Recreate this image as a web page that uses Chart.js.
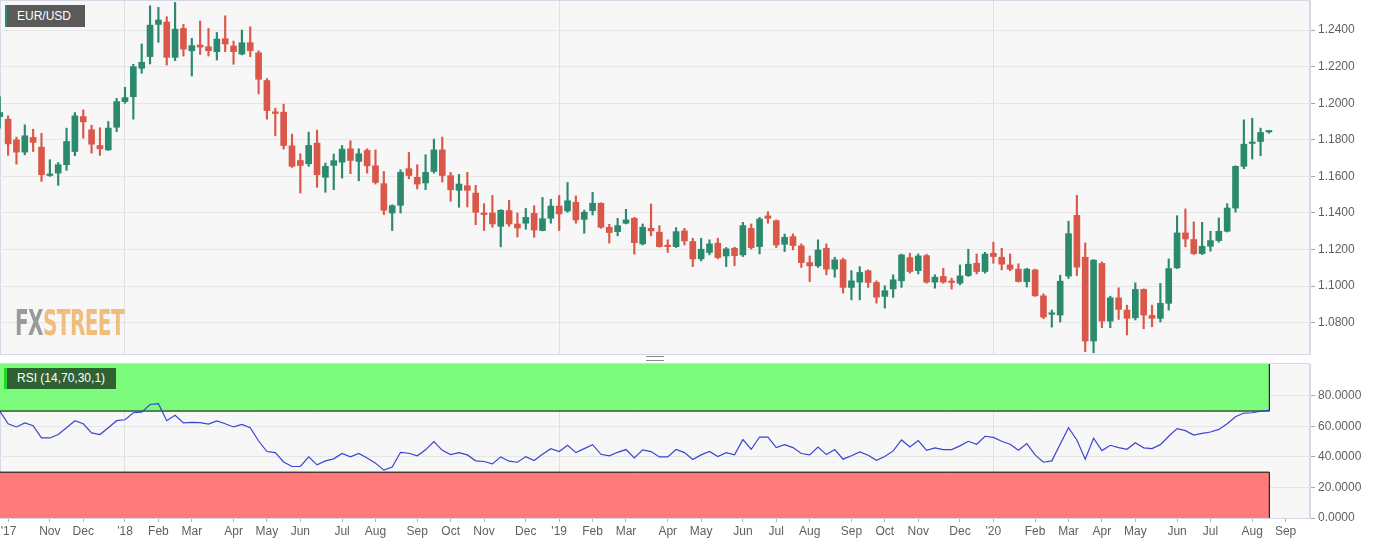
<!DOCTYPE html>
<html>
<head>
<meta charset="utf-8">
<title>EUR/USD weekly</title>
<script src="https://cdn.jsdelivr.net/npm/chart.js@4.4.0/dist/chart.umd.min.js"></script>
<style>
html,body{margin:0;padding:0;background:#fff;}
#wrap{position:relative;width:1387px;height:544px;overflow:hidden;font-family:"Liberation Sans",Arial,sans-serif;}
#price{position:absolute;left:0;top:0;}
#rsi{position:absolute;left:0;top:356px;}
.tag{position:absolute;color:#fff;font-size:12px;line-height:22px;white-space:nowrap;z-index:2;}
#pairTag{left:5px;top:5px;width:80px;height:22px;background:#5a5a5a;border-left:2px solid #2b8a6e;padding-left:10px;box-sizing:border-box;}
#rsiTag{left:4px;top:368px;width:112px;height:21px;line-height:21px;background:#2f6233;border-left:3px solid #26d426;padding-left:10px;box-sizing:border-box;}
#logo{position:absolute;left:15px;top:302px;font-family:"DejaVu Sans Condensed","DejaVu Sans",sans-serif;font-weight:bold;font-size:36px;transform:scaleX(0.62);transform-origin:0 0;letter-spacing:-1px;z-index:2;}
#logo .fx{color:#9a9a9a;}
#logo .st{color:#f1bd7c;}
#handle{position:absolute;left:646px;top:356px;width:18px;height:3px;border-top:1px solid #8a8a8a;border-bottom:1px solid #8a8a8a;}
</style>
</head>
<body>
<div id="wrap">
  <canvas id="price" width="1387" height="355"></canvas>
  <canvas id="rsi" width="1387" height="188"></canvas>
  <div id="pairTag" class="tag">EUR/USD</div>
  <div id="rsiTag" class="tag">RSI (14,70,30,1)</div>
  <div id="logo"><span class="fx">FX</span><span class="st">STREET</span></div>
  <div id="handle"></div>
</div>
<script>
// weekly candles, first week = 18 Sep 2017, last = 17 Aug 2020
const openP = [
  1.1927,1.1913,1.1800,1.1733,1.1813,1.1760,1.1605,1.1618,1.1664,1.1736,
  1.1927,1.1855,1.1769,1.1745,1.1869,1.2009,1.2036,1.2191,1.2255,1.2431,
  1.2444,1.2251,1.2409,1.2287,1.2318,1.2309,1.2282,1.2353,1.2313,1.2269,
  1.2331,1.2276,1.2124,1.1953,1.1951,1.1767,1.1687,1.1669,1.1782,1.1595,
  1.1660,1.1678,1.1751,1.1682,1.1742,1.1658,1.1560,1.1400,1.1442,1.1642,
  1.1595,1.1564,1.1627,1.1745,1.1604,1.1524,1.1549,1.1509,1.1400,1.1400,
  1.1327,1.1413,1.1340,1.1344,1.1398,1.1304,1.1371,1.1438,1.1411,1.1458,
  1.1365,1.1413,1.1453,1.1322,1.1298,1.1344,1.1371,1.1231,1.1316,1.1295,
  1.1222,1.1216,1.1302,1.1244,1.1149,1.1184,1.1235,1.1165,1.1207,1.1171,
  1.1316,1.1216,1.1384,1.1358,1.1229,1.1271,1.1220,1.1129,1.1111,1.1207,
  1.1093,1.1144,1.0993,1.1022,1.1084,1.1020,1.0944,1.0985,1.1029,1.1156,
  1.1085,1.1167,1.1022,1.1053,1.1025,1.1016,1.1058,1.1125,1.1080,1.1180,
  1.1158,1.1116,1.1093,1.1025,1.1089,1.0947,1.0846,1.0842,1.1055,1.1387,
  1.1158,1.0700,1.1124,1.0809,1.0936,1.0869,1.0827,1.0982,1.0840,1.0824,
  1.0906,1.1100,1.1291,1.1255,1.1178,1.1218,1.1249,1.1300,1.1427,1.1655,
  1.1780,1.1791,1.1843
];
const highP = [
  1.2036,1.1931,1.1815,1.1882,1.1858,1.1836,1.1691,1.1676,1.1864,1.1949,
  1.1964,1.1880,1.1866,1.1900,1.2027,1.2087,1.2213,1.2324,1.2533,1.2524,
  1.2473,1.2551,1.2431,1.2355,1.2449,1.2409,1.2387,1.2478,1.2340,1.2400,
  1.2418,1.2287,1.2135,1.1973,1.1995,1.1831,1.1724,1.1842,1.1853,1.1673,
  1.1722,1.1769,1.1795,1.1751,1.1751,1.1745,1.1627,1.1445,1.1636,1.1731,
  1.1664,1.1718,1.1804,1.1815,1.1622,1.1611,1.1622,1.1551,1.1451,1.1496,
  1.1418,1.1469,1.1400,1.1425,1.1440,1.1485,1.1475,1.1496,1.1567,1.1493,
  1.1416,1.1513,1.1456,1.1338,1.1371,1.1420,1.1376,1.1340,1.1449,1.1331,
  1.1253,1.1320,1.1316,1.1262,1.1262,1.1253,1.1262,1.1211,1.1213,1.1349,
  1.1340,1.1376,1.1407,1.1362,1.1285,1.1285,1.1231,1.1165,1.1253,1.1231,
  1.1158,1.1153,1.1085,1.1107,1.1089,1.1029,1.1002,1.1062,1.1175,1.1180,
  1.1176,1.1175,1.1062,1.1098,1.1044,1.1116,1.1202,1.1176,1.1185,1.1240,
  1.1207,1.1176,1.1122,1.1098,1.1093,1.0958,1.0869,1.1060,1.1355,1.1496,
  1.1236,1.1145,1.1133,1.0945,1.0991,1.0896,1.1018,1.0985,1.0896,1.1015,
  1.1149,1.1385,1.1422,1.1351,1.1349,1.1300,1.1373,1.1451,1.1658,1.1909,
  1.1918,1.1864,1.1851
];
const lowP = [
  1.1864,1.1715,1.1667,1.1718,1.1736,1.1573,1.1600,1.1551,1.1633,1.1713,
  1.1809,1.1727,1.1715,1.1742,1.1845,1.2000,1.1913,1.2164,1.2215,1.2333,
  1.2209,1.2233,1.2258,1.2149,1.2267,1.2258,1.2236,1.2282,1.2213,1.2264,
  1.2255,1.2051,1.1913,1.1822,1.1749,1.1649,1.1509,1.1655,1.1540,1.1513,
  1.1527,1.1591,1.1615,1.1576,1.1618,1.1558,1.1391,1.1304,1.1400,1.1587,
  1.1531,1.1527,1.1618,1.1569,1.1464,1.1431,1.1433,1.1336,1.1304,1.1322,
  1.1215,1.1327,1.1269,1.1311,1.1267,1.1302,1.1344,1.1304,1.1404,1.1344,
  1.1289,1.1389,1.1316,1.1235,1.1275,1.1340,1.1175,1.1225,1.1275,1.1213,
  1.1185,1.1211,1.1225,1.1107,1.1138,1.1171,1.1149,1.1107,1.1111,1.1162,
  1.1202,1.1176,1.1344,1.1211,1.1189,1.1198,1.1102,1.1025,1.1102,1.1062,
  1.1049,1.0962,1.0925,1.0925,1.0993,1.0907,1.0880,1.0938,1.0993,1.1071,
  1.1067,1.1016,1.0989,1.1016,1.0984,1.1007,1.1053,1.1067,1.1071,1.1125,
  1.1089,1.1085,1.1022,1.0995,1.0944,1.0822,1.0776,1.0804,1.1042,1.1058,
  1.0642,1.0636,1.0773,1.0773,1.0818,1.0733,1.0815,1.0767,1.0778,1.0804,
  1.0869,1.1096,1.1215,1.1173,1.1173,1.1191,1.1240,1.1296,1.1405,1.1642,
  1.1695,1.1713,1.1836
];
const closeP = [
  1.1949,1.1778,1.1733,1.1822,1.1786,1.1609,1.1612,1.1664,1.1791,1.1931,
  1.1898,1.1776,1.1751,1.1864,1.2009,1.2031,1.2200,1.2224,1.2427,1.2455,
  1.2251,1.2405,1.2296,1.2315,1.2307,1.2287,1.2351,1.2324,1.2282,1.2331,
  1.2287,1.2131,1.1960,1.1944,1.1769,1.1655,1.1660,1.1769,1.1609,1.1655,
  1.1686,1.1749,1.1687,1.1724,1.1658,1.1567,1.1415,1.1440,1.1622,1.1605,
  1.1558,1.1622,1.1745,1.1605,1.1527,1.1558,1.1524,1.1404,1.1391,1.1340,
  1.1415,1.1340,1.1318,1.1376,1.1307,1.1369,1.1438,1.1395,1.1467,1.1362,
  1.1404,1.1453,1.1322,1.1293,1.1331,1.1362,1.1238,1.1322,1.1302,1.1216,
  1.1216,1.1298,1.1247,1.1149,1.1202,1.1231,1.1156,1.1204,1.1167,1.1331,
  1.1211,1.1367,1.1371,1.1225,1.1267,1.1222,1.1129,1.1111,1.1198,1.1093,
  1.1144,1.0993,1.1029,1.1075,1.1020,1.0940,1.0975,1.1035,1.1171,1.1080,
  1.1165,1.1022,1.1049,1.1022,1.1020,1.1056,1.1120,1.1080,1.1175,1.1162,
  1.1120,1.1093,1.1025,1.1093,1.0947,1.0831,1.0851,1.1027,1.1287,1.1104,
  1.0700,1.1142,1.0809,1.0936,1.0873,1.0824,1.0982,1.0842,1.0824,1.0906,
  1.1096,1.1291,1.1258,1.1178,1.1218,1.1249,1.1300,1.1427,1.1655,1.1776,
  1.1787,1.1840,1.1846
];
// RSI (14) per week
const rsiVals = [
  70.0,61.7,59.6,62.2,60.4,52.4,52.4,54.6,59.1,63.7,
  61.7,55.7,54.6,59.1,63.7,64.3,68.9,69.3,74.3,74.8,
  63.7,67.2,62.2,62.6,62.4,61.5,63.5,61.7,59.6,61.3,
  59.1,50.4,43.5,42.8,36.7,33.7,33.7,40.0,34.8,37.4,
  38.7,42.2,40.0,42.2,39.3,35.9,31.3,33.3,43.0,42.4,
  40.7,44.6,50.0,44.3,41.5,42.8,41.3,37.4,37.0,35.4,
  40.0,37.2,36.5,40.2,37.6,41.7,45.4,43.5,47.6,42.8,
  45.4,48.0,41.7,40.7,43.0,44.8,39.3,44.6,43.5,40.0,
  40.0,44.8,42.8,38.3,41.3,43.5,40.2,42.8,41.3,51.3,
  45.0,53.0,53.0,46.1,48.0,46.1,42.2,41.3,46.5,41.5,
  44.8,38.5,40.7,43.3,41.1,37.8,40.2,43.9,51.1,46.5,
  50.7,44.3,45.9,44.8,44.8,47.2,50.2,48.3,53.5,52.8,
  50.2,48.3,44.3,48.7,41.3,36.5,37.4,48.3,59.1,51.1,
  38.5,52.2,44.1,47.6,46.1,45.0,49.3,45.9,45.4,48.0,
  53.5,58.5,57.2,54.3,55.4,56.3,58.0,61.7,66.3,68.7,
  68.9,70.0,70.4
];
const priceTicks = [1.08,1.10,1.12,1.14,1.16,1.18,1.20,1.22,1.24];
const rsiTicks = [0,20,40,60,80];
const rsiBands = [30,70];
// month labels from Nov 2017 on
const monthLabels = ["Nov","Dec","'18","Feb","Mar","Apr","May","Jun","Jul","Aug","Sep","Oct",
  "Nov","Dec","'19","Feb","Mar","Apr","May","Jun","Jul","Aug","Sep","Oct",
  "Nov","Dec","'20","Feb","Mar","Apr","May","Jun","Jul","Aug","Sep"];
const leadLabel = "'17", leadPos = 1.05;

const UP = '#2b8a6e', DOWN = '#d9584a', FRAME = '#d7d7e6', FONT = '"Liberation Sans", Arial, sans-serif';
const X_MIN = 0.03, X_MAX = 156.92, ZONE_END = 152.05;
const P_MIN = 1.0629, P_MAX = 1.2559, R_MAX = 100.8;

// week index of a month start on the candle axis
function weekOf(y, m){ return Math.floor((Date.UTC(y, m, 1) - Date.UTC(2017, 8, 16)) / 6048e5); }

const xTicks = [leadPos], tickText = new Map([[leadPos, leadLabel]]), yearTicks = new Set();
monthLabels.forEach((lab, k)=>{
  const w = weekOf(2017, 10 + k);
  xTicks.push(w); tickText.set(w, lab);
  if(lab[0]==="'") yearTicks.add(w);
});

const upAt = i => closeP[i] >= openP[i];
const candleColor = c => upAt(c.dataIndex) ? UP : DOWN;
const yearGrid = c => (c.tick && yearTicks.has(c.tick.value)) ? '#e1e1e1' : 'rgba(0,0,0,0)';
const noPad = s => { s.paddingLeft = 0; s.paddingRight = 0; s.paddingTop = 0; s.paddingBottom = 0; };

const plotFrame = {
  id:'plotFrame',
  beforeDraw(chart){
    const {ctx, chartArea:a} = chart;
    ctx.save();
    ctx.fillStyle = '#f7f7f7';
    ctx.fillRect(a.left, a.top, a.right - a.left, a.bottom - a.top);
    ctx.strokeStyle = FRAME; ctx.lineWidth = 1;
    ctx.strokeRect(a.left + 0.5, a.top - 0.5, a.right - a.left - 1, a.bottom - a.top + 1);
    ctx.restore();
  }
};

const tickFont = {family: FONT, size: 12};
const xBase = {
  type:'linear', min:X_MIN, max:X_MAX, offset:false,
  afterBuildTicks: s => { s.ticks = xTicks.map(v=>({value:v})); }
};

// price panel
new Chart(document.getElementById('price'), {
  type:'bar',
  data:{ datasets:[
    { data: openP.map((_, i)=>({x:i, y:[lowP[i], highP[i]]})), backgroundColor: candleColor,
      barThickness:1.5, grouped:false, order:2 },
    { data: openP.map((_, i)=>({x:i, y:[openP[i], closeP[i]]})), backgroundColor: candleColor,
      barThickness:6, minBarLength:1.5, grouped:false, order:1 }
  ]},
  options:{
    responsive:false, animation:false,
    layout:{ padding:{top:1, bottom:1, left:0, right:0} },
    plugins:{ legend:{display:false}, tooltip:{enabled:false} },
    scales:{
      x:{ ...xBase,
        afterFit: s => { s.height = 0; noPad(s); },
        ticks:{display:false},
        grid:{ offset:false, drawTicks:false, color: yearGrid },
        border:{ color: FRAME } },
      y:{ position:'right', min:P_MIN, max:P_MAX,
        afterBuildTicks: s => { s.ticks = priceTicks.map(v=>({value:v})); },
        afterFit: s => { s.width = 77; noPad(s); },
        ticks:{ callback: v => v.toFixed(4), color:'#5f5f5f', font: tickFont, padding:3 },
        grid:{ color:'#e6e6e6', tickLength:5, tickColor:'#a8a8a8' },
        border:{ color: FRAME } }
    }
  },
  plugins:[plotFrame]
});

// RSI panel
const lineOpts = { pointRadius:0, borderWidth:1, borderColor:'#000', fill:false };
new Chart(document.getElementById('rsi'), {
  type:'line',
  data:{ datasets:[
    { data: rsiVals.map((v, i)=>({x:i, y:v})), borderColor:'#3a44cf', borderWidth:1.2, pointRadius:0, fill:false, order:0 },
    { ...lineOpts, data:[{x:-2, y:rsiBands[1]}, {x:ZONE_END, y:rsiBands[1]}], fill:'end', backgroundColor:'#7dfb7d', order:3 },
    { ...lineOpts, data:[{x:-2, y:rsiBands[0]}, {x:ZONE_END, y:rsiBands[0]}], fill:'start', backgroundColor:'#ff7b7b', order:3 },
    { ...lineOpts, data:[{x:ZONE_END, y:rsiBands[1]}, {x:ZONE_END, y:R_MAX}], order:2 },
    { ...lineOpts, data:[{x:ZONE_END, y:0}, {x:ZONE_END, y:rsiBands[0]}], order:2 }
  ]},
  options:{
    responsive:false, animation:false,
    layout:{ padding:{top:8, bottom:0, left:0, right:0} },
    plugins:{ legend:{display:false}, tooltip:{enabled:false} },
    scales:{
      x:{ ...xBase,
        afterFit: s => { s.height = 26; noPad(s); },
        ticks:{ autoSkip:false, maxRotation:0, color:'#5f5f5f', font: tickFont, padding:2,
          callback: v => tickText.get(v) || '' },
        grid:{ offset:false, color: yearGrid, tickLength:4, tickColor:'#b5b5b5' },
        border:{ color: FRAME } },
      y:{ position:'right', min:0, max:R_MAX,
        afterBuildTicks: s => { s.ticks = rsiTicks.map(v=>({value:v})); },
        afterFit: s => { s.width = 77; noPad(s); },
        ticks:{ callback: v => v.toFixed(4), color:'#5f5f5f', font: tickFont, padding:3 },
        grid:{ color:'#e6e6e6', tickLength:5, tickColor:'#a8a8a8' },
        border:{ color: FRAME } }
    }
  },
  plugins:[plotFrame]
});
</script>
</body>
</html>
